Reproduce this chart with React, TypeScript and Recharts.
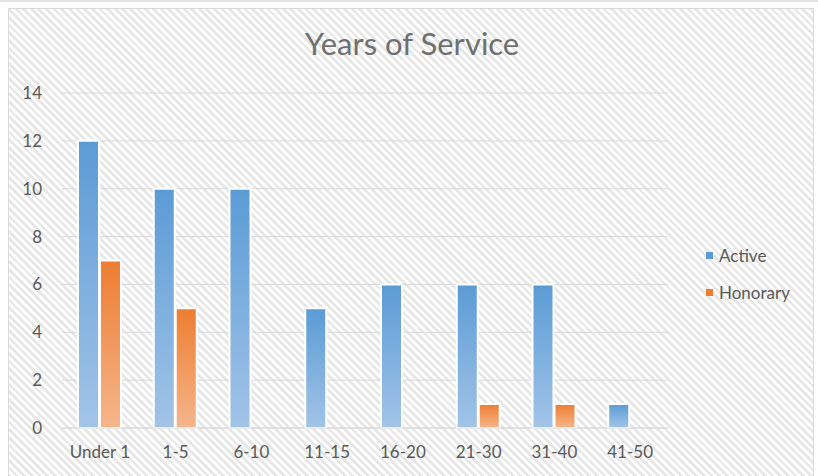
import { BarChart, Bar, XAxis, YAxis, CartesianGrid } from "recharts"

const categories = ["Under 1", "1-5", "6-10", "11-15", "16-20", "21-30", "31-40", "41-50"]
const activeValues = [12, 10, 10, 5, 6, 6, 6, 1]
const honoraryValues = [7, 5, 0, 0, 0, 1, 1, 0]
const yTicks = [0, 2, 4, 6, 8, 10, 12, 14]

const data = categories.map((name, i) => ({
  name,
  active: activeValues[i],
  honorary: honoraryValues[i],
}))

const textColor = "#595959"
const gridStroke = "#d9d9d9"
const font = "Lato, 'Open Sans', sans-serif"

const legendItems = [
  { label: "Active", color: "#5b9bd5" },
  { label: "Honorary", color: "#ed7d31" },
]

function LegendBox() {
  return (
    <div style={{ position: "absolute", left: 706, top: 237, fontFamily: font, fontSize: 17, color: textColor }}>
      {legendItems.map((it) => (
        <div key={it.label} style={{ display: "flex", alignItems: "center", height: 37 }}>
          <span style={{ width: 7, height: 7, background: it.color, marginRight: 6, display: "inline-block" }} />
          {it.label}
        </div>
      ))}
    </div>
  )
}

export default function App() {
  return (
    <div style={{ position: "absolute", left: 0, top: 0, width: 818, height: 476, background: "#fff", overflow: "hidden" }}>
      <div style={{ position: "absolute", left: 0, top: 0, width: 818, height: 2, background: "#e3e3e3" }} />
      <div
        style={{
          position: "absolute",
          left: 8,
          top: 8,
          width: 804,
          height: 480,
          border: "1px solid #d9d9d9",
          background: "repeating-linear-gradient(45deg, #ffffff 0px, #ffffff 2.8px, #e7e7e7 2.8px, #e7e7e7 5.4px)",
        }}
      />
      <div
        style={{
          position: "absolute",
          left: 0,
          width: 824,
          top: 24,
          textAlign: "center",
          fontFamily: font,
          fontSize: 31,
          color: "#707070",
        }}
      >
        Years of Service
      </div>
      <div style={{ position: "absolute", left: 0, top: 0 }}>
        <BarChart width={818} height={476} data={data} margin={{ top: 93, right: 150, left: 20, bottom: 18 }} barGap={1} barSize={21}>
          <defs>
            <linearGradient id="gActive" x1="0" y1="0" x2="0" y2="1">
              <stop offset="0%" stopColor="#5b9bd5" />
              <stop offset="100%" stopColor="#a2c4e7" />
            </linearGradient>
            <linearGradient id="gHonorary" x1="0" y1="0" x2="0" y2="1">
              <stop offset="0%" stopColor="#ed7d31" />
              <stop offset="100%" stopColor="#f5b68c" />
            </linearGradient>
          </defs>
          <CartesianGrid stroke={gridStroke} vertical={false} />
          <XAxis
            dataKey="name"
            tickLine={false}
            axisLine={{ stroke: gridStroke }}
            tickMargin={12}
            height={30}
            interval={0}
            tick={{ fill: textColor, fontSize: 17, fontFamily: font }}
          />
          <YAxis
            domain={[0, 14]}
            ticks={yTicks}
            tickLine={false}
            axisLine={false}
            width={42}
            tickMargin={14}
            tick={{ fill: textColor, fontSize: 17, fontFamily: font }}
          />
          <Bar dataKey="active" name="Active" fill="url(#gActive)" stroke="#ffffff" strokeWidth={2} isAnimationActive={false} />
          <Bar dataKey="honorary" name="Honorary" fill="url(#gHonorary)" stroke="#ffffff" strokeWidth={2} isAnimationActive={false} />
        </BarChart>
      </div>
      <LegendBox />
    </div>
  )
}
